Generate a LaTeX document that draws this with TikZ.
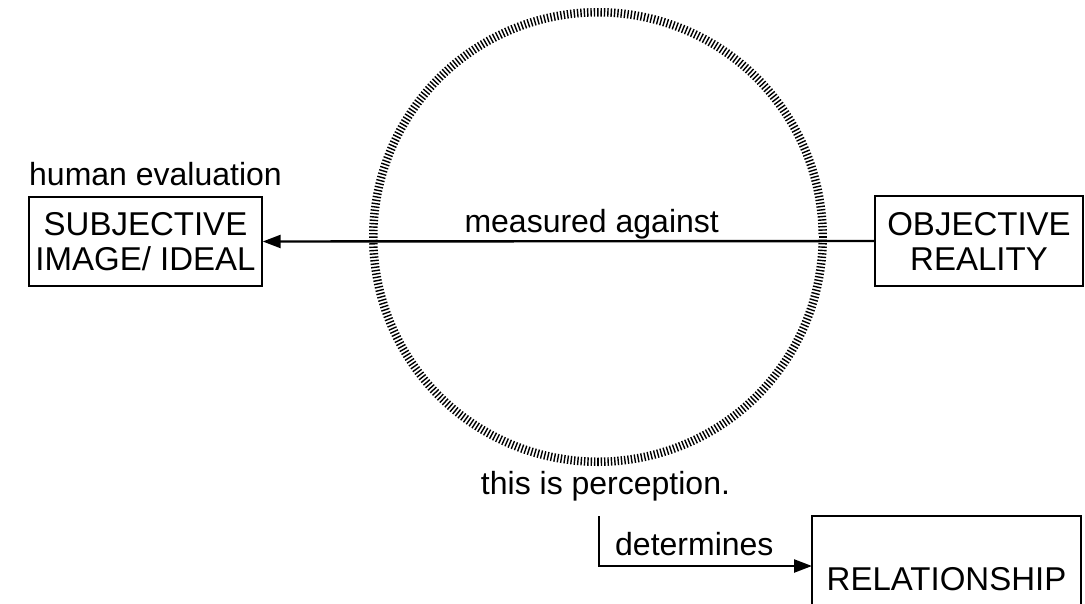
\documentclass[tikz,border=0pt]{standalone}
\usepackage{fontspec}
\setmainfont{Liberation Sans}
\usetikzlibrary{arrows.meta,calc}
\begin{document}
\begin{tikzpicture}[x=1pt,y=-1pt,
  box/.style={draw, line width=1.4pt, inner sep=0pt, align=center, font=\fontsize{33}{35}\selectfont},
  lbl/.style={inner sep=0pt, font=\fontsize{32}{35}\selectfont},
  conn/.style={line width=2.4pt, -{Triangle[length=18pt,width=13pt]}},
  tick/.style={line width=1.4pt},
  seamtick/.style={line width=2.6pt}]
\useasboundingbox (0,0) rectangle (1085,603);
% perception circle made of radial ticks
\coordinate (c) at (598,237);
\foreach \a in {0,0.857,...,359.5}{
  \draw[tick] ($(c)+(\a:220.5)$) -- ($(c)+(\a:229)$);
}
\draw[seamtick] ($(c)+(90:220.5)$) -- ($(c)+(90:229)$);
\node[box, minimum width=233pt, minimum height=89pt] (sub) at (145.5,241.5) {SUBJECTIVE\\IMAGE/ IDEAL};
\node[box, minimum width=208pt, minimum height=90pt] (obj) at (979,241) {OBJECTIVE\\REALITY};
\node[box, minimum width=269pt, minimum height=126pt] (rel) at (946.5,579) {RELATIONSHIP};
\node[lbl, anchor=base west] (he) at (29,185) {human evaluation};
\node[lbl, anchor=base] (ma) at (591.7,232) {measured against};
\node[lbl, anchor=base] (perc) at (605.5,494) {this is perception.};
\node[lbl, anchor=base west] (det) at (615,555) {determines};
\coordinate (pstart) at (599,516);
\coordinate (relin) at (812,566);
\draw[conn] (obj.west) -- (sub.east);
\draw[conn] (pstart) |- (relin);
\end{tikzpicture}
\end{document}
